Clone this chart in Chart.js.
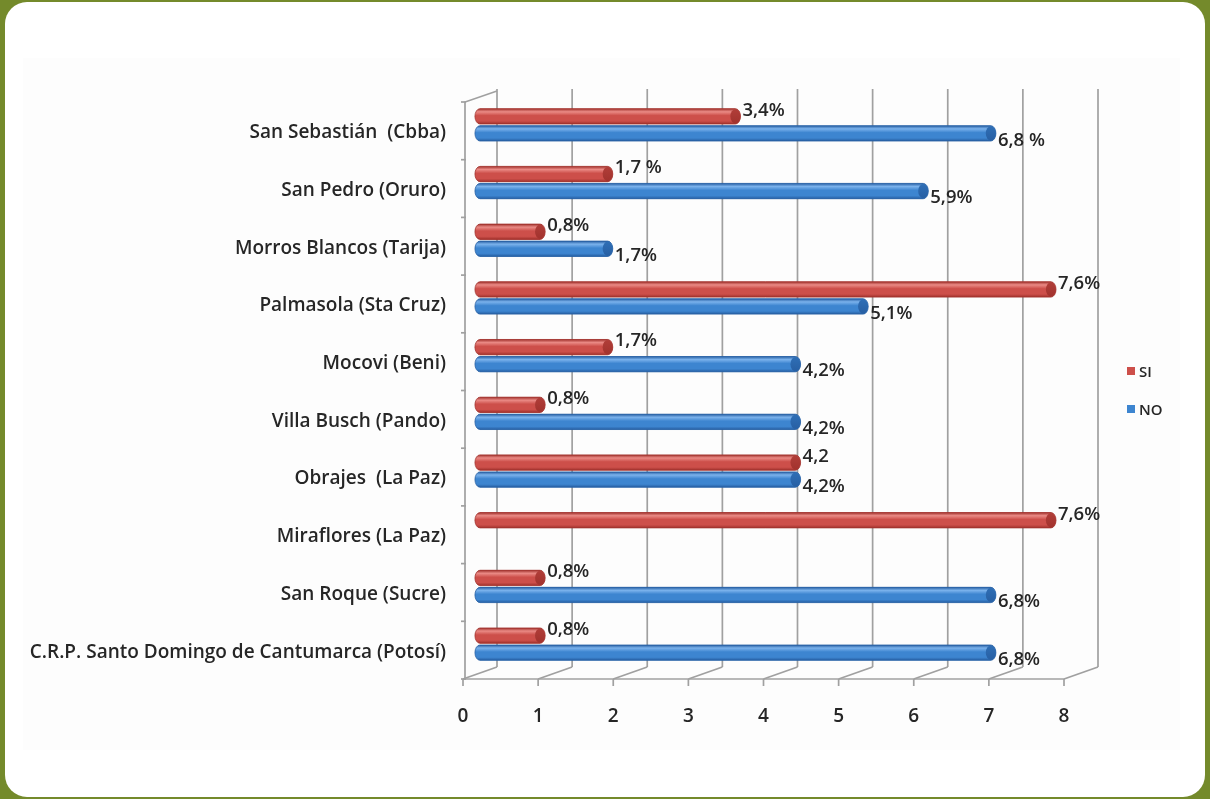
<!DOCTYPE html>
<html>
<head>
<meta charset="utf-8">
<script src="https://cdn.jsdelivr.net/npm/chart.js@4.4.1/dist/chart.umd.min.js"></script>
<style>
  html, body { margin: 0; padding: 0; }
  body { width: 1210px; height: 799px; background: #748a2b; position: relative; overflow: hidden; }
  #card { position: absolute; left: 5px; top: 2px; width: 1200px; height: 795px; background: #ffffff; border-radius: 22px; }
  #plotbg { position: absolute; left: 23px; top: 58px; width: 1157px; height: 692px; background: #fdfdfd; }
  #wrap { position: absolute; left: 0; top: 0; width: 1210px; height: 799px; }
</style>
</head>
<body>
<div id="card"></div>
<div id="plotbg"></div>
<div id="wrap"><canvas id="c" width="1210" height="799"></canvas></div>
<script>
const categories = [
  'San Sebastián  (Cbba)',
  'San Pedro (Oruro)',
  'Morros Blancos (Tarija)',
  'Palmasola (Sta Cruz)',
  'Mocovi (Beni)',
  'Villa Busch (Pando)',
  'Obrajes  (La Paz)',
  'Miraflores (La Paz)',
  'San Roque (Sucre)',
  'C.R.P. Santo Domingo de Cantumarca (Potosí)'
];
const seriesNames = ['SI', 'NO'];
const siValues = [3.4, 1.7, 0.8, 7.6, 1.7, 0.8, 4.2, 7.6, 0.8, 0.8];
const noValues = [6.8, 5.9, 1.7, 5.1, 4.2, 4.2, 4.2, null, 6.8, 6.8];
const siLabels = ['3,4%', '1,7 %', '0,8%', '7,6%', '1,7%', '0,8%', '4,2', '7,6%', '0,8%', '0,8%'];
const noLabels = ['6,8 %', '5,9%', '1,7%', '5,1%', '4,2%', '4,2%', '4,2%', '', '6,8%', '6,8%'];
const xTickValues = [0, 1, 2, 3, 4, 5, 6, 7, 8];

const FONT = "'Open Sans', 'DejaVu Sans', sans-serif";
const TEXT = '#262626';
const GRID = '#a0a0a0';
const DEPTH_X = 17, DEPTH_Y = 6;

const palette = {
  SI: { base: '#cd4f4a', light: '#ea8a85', dark: '#a1322d', cap: '#b13e39' },
  NO: { base: '#3d85d0', light: '#7bb2ec', dark: '#275fa3', cap: '#2f6fb6' }
};

const wallsPlugin = {
  id: 'walls',
  beforeDatasetsDraw(chart) {
    const ctx = chart.ctx, xs = chart.scales.x, ys = chart.scales.y, a = chart.chartArea;
    ctx.save();
    ctx.strokeStyle = GRID;
    ctx.lineWidth = 1.7;
    const fy = a.bottom + DEPTH_Y, by = a.bottom - DEPTH_Y, topY = a.top - DEPTH_Y - 1;
    xTickValues.forEach(v => {
      const px = xs.getPixelForValue(v);
      ctx.beginPath(); ctx.moveTo(px + DEPTH_X, topY); ctx.lineTo(px + DEPTH_X, by); ctx.stroke();
      ctx.beginPath(); ctx.moveTo(px - DEPTH_X, fy); ctx.lineTo(px + DEPTH_X, by); ctx.stroke();
      ctx.beginPath(); ctx.moveTo(px - DEPTH_X, fy); ctx.lineTo(px - DEPTH_X, fy + 7); ctx.stroke();
    });
    const x0 = xs.getPixelForValue(xTickValues[0]), x8 = xs.getPixelForValue(xTickValues[xTickValues.length - 1]);
    ctx.beginPath(); ctx.moveTo(x0 - DEPTH_X, fy); ctx.lineTo(x8 - DEPTH_X, fy); ctx.stroke();
    const lx = x0 - DEPTH_X + 2;
    ctx.beginPath();
    ctx.moveTo(lx, fy); ctx.lineTo(lx, a.top + DEPTH_Y); ctx.lineTo(x0 + DEPTH_X, topY + 2);
    ctx.stroke();
    const n = categories.length;
    for (let k = 0; k <= n; k++) {
      let yy;
      if (k === 0) yy = a.top; else if (k === n) yy = a.bottom;
      else yy = (ys.getPixelForValue(k - 1) + ys.getPixelForValue(k)) / 2;
      yy += DEPTH_Y;
      ctx.beginPath(); ctx.moveTo(lx - 4, yy); ctx.lineTo(lx + 1, yy); ctx.stroke();
    }
    ctx.restore();
  }
};

const cylinderPlugin = {
  id: 'cylinders',
  afterDatasetsDraw(chart) {
    const ctx = chart.ctx;
    ctx.save();
    chart.data.datasets.forEach((ds, di) => {
      const meta = chart.getDatasetMeta(di);
      const col = palette[ds.label];
      meta.data.forEach((bar, i) => {
        if (ds.data[i] == null) return;
        const p = bar.getProps(['x', 'y', 'base', 'height'], true);
        const h = p.height, top = p.y - h / 2, bot = p.y + h / 2, ry = h / 2, rx = h * 0.33;
        const g = ctx.createLinearGradient(0, top, 0, bot);
        g.addColorStop(0, col.dark);
        g.addColorStop(0.2, col.light);
        g.addColorStop(0.45, col.base);
        g.addColorStop(0.8, col.base);
        g.addColorStop(1, col.dark);
        ctx.fillStyle = g;
        ctx.beginPath();
        ctx.moveTo(p.base, top);
        ctx.lineTo(p.x, top);
        ctx.ellipse(p.x, p.y, rx, ry, 0, -Math.PI / 2, Math.PI / 2, false);
        ctx.lineTo(p.base, bot);
        ctx.ellipse(p.base, p.y, rx, ry, 0, Math.PI / 2, Math.PI * 1.5, false);
        ctx.closePath();
        ctx.fill();
        ctx.strokeStyle = col.dark;
        ctx.lineWidth = 0.8;
        ctx.stroke();
        const gc = ctx.createLinearGradient(0, top, 0, bot);
        gc.addColorStop(0, col.cap);
        gc.addColorStop(1, col.dark);
        ctx.fillStyle = gc;
        ctx.beginPath();
        ctx.ellipse(p.x, p.y, rx, ry - 0.5, 0, 0, Math.PI * 2);
        ctx.fill();
      });
    });
    ctx.restore();
  }
};

const valueLabelPlugin = {
  id: 'valueLabels',
  afterDatasetsDraw(chart) {
    const ctx = chart.ctx;
    ctx.save();
    ctx.font = '600 18.5px ' + FONT;
    ctx.fillStyle = TEXT;
    ctx.textAlign = 'left';
    ctx.textBaseline = 'middle';
    chart.data.datasets.forEach((ds, di) => {
      const meta = chart.getDatasetMeta(di);
      meta.data.forEach((bar, i) => {
        if (ds.data[i] == null) return;
        const p = bar.getProps(['x', 'y', 'height'], true);
        const dy = di === 0 ? -6 : 7;
        ctx.fillText(ds.valueLabels[i], p.x + p.height * 0.33 + 2, p.y + dy);
      });
    });
    ctx.restore();
  }
};

const legendPlugin = {
  id: 'sideLegend',
  afterDraw(chart) {
    const ctx = chart.ctx;
    ctx.save();
    ctx.font = '600 15px ' + FONT;
    ctx.textAlign = 'left';
    ctx.textBaseline = 'middle';
    chart.data.datasets.forEach((ds, di) => {
      const cy = 372 + di * 38;
      ctx.fillStyle = ds.backgroundColor;
      ctx.fillRect(1127, cy - 5, 8, 8);
      ctx.fillStyle = TEXT;
      ctx.fillText(ds.label, 1139, cy + 1);
    });
    ctx.restore();
  }
};

new Chart(document.getElementById('c'), {
  type: 'bar',
  data: {
    labels: categories,
    datasets: [
      { label: seriesNames[0], data: siValues, valueLabels: siLabels, backgroundColor: palette.SI.base, borderWidth: 0, clip: false,
        categoryPercentage: 0.59, barPercentage: 0.9 },
      { label: seriesNames[1], data: noValues, valueLabels: noLabels, backgroundColor: palette.NO.base, borderWidth: 0, clip: false,
        categoryPercentage: 0.59, barPercentage: 0.9 }
    ]
  },
  options: {
    indexAxis: 'y',
    responsive: false,
    animation: false,
    devicePixelRatio: 1,
    layout: { padding: { top: 96, right: 129, bottom: 0, left: 0 } },
    plugins: { legend: { display: false }, tooltip: { enabled: false } },
    scales: {
      x: {
        type: 'linear', min: 0, max: 8,
        afterBuildTicks: s => { s.ticks = xTickValues.map(v => ({ value: v })); },
        afterFit: s => { s.height = 126; },
        grid: { display: false, drawTicks: false },
        border: { display: false },
        ticks: { labelOffset: -DEPTH_X, padding: 32, color: TEXT, font: { family: FONT, size: 19, weight: '600' } }
      },
      y: {
        afterFit: s => { s.width = 480; },
        grid: { display: false, drawTicks: false },
        border: { display: false },
        ticks: { labelOffset: 8, padding: 34, color: TEXT, font: { family: FONT, size: 19, weight: '600' }, autoSkip: false }
      }
    }
  },
  plugins: [wallsPlugin, cylinderPlugin, valueLabelPlugin, legendPlugin]
});
</script>
</body>
</html>
